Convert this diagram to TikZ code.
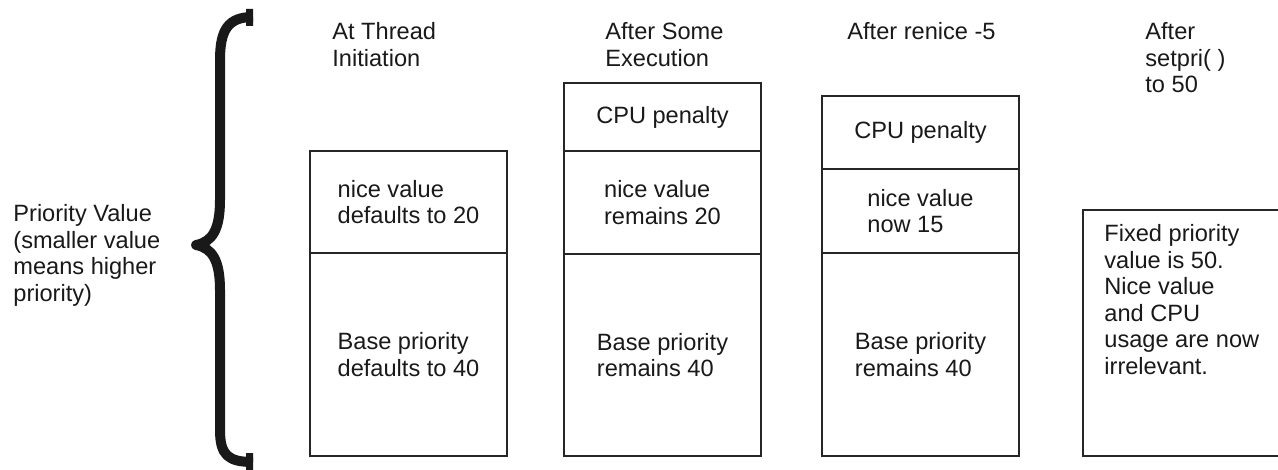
\documentclass[tikz,border=0pt]{standalone}
\usepackage{fontspec}
\setmainfont{Liberation Sans}
\usetikzlibrary{positioning}

\begin{document}
\begin{tikzpicture}[x=0.5pt, y=-0.5pt, node distance=0pt,
        font=\fontsize{11.8}{13.3}\selectfont,
        cell_style/.style={draw=black!85, line width=1pt, minimum width=98.5pt, inner sep=0pt, outer sep=0pt, align=left, text=black!90},
        head_style/.style={anchor=north west, align=left, inner sep=0pt, text=black!90},
        brace_style/.style={draw=black!90, line width=5pt, line join=round}]

        \useasboundingbox (0,0) rectangle (1278,470);
        \clip (0,0) rectangle (1278,470);

        % left label and brace
        \node [head_style] (label) at (13,204) {Priority Value\\(smaller value\\means higher\\priority)};
        \draw [brace_style] (253,17) .. controls (228,17) and (220,30) .. (220,60) -- (220,200)
            .. controls (220,230) and (212,242) .. (196,245)
            .. controls (212,248) and (220,260) .. (220,290) -- (220,430)
            .. controls (220,455) and (228,462) .. (253,462);
        \fill [black!90] (246,9) rectangle (253,26) (246,453) rectangle (253,470);

        % column 1
        \node [head_style] (head1) at (332,22) {At Thread\\Initiation};
        \node [cell_style, minimum height=51pt, anchor=north west] (nice1) at (310,151) {nice value\\defaults to 20};
        \node [cell_style, minimum height=101.5pt, below=of nice1] (base1) {Base priority\\defaults to 40};

        % column 2
        \node [head_style] (head2) at (605,22) {After Some\\Execution};
        \node [cell_style, minimum height=34pt, anchor=north west] (cpu2) at (564,83) {CPU penalty};
        \node [cell_style, minimum height=51.5pt, below=of cpu2] (nice2) {nice value\\remains 20};
        \node [cell_style, minimum height=101pt, below=of nice2] (base2) {Base priority\\remains 40};

        % column 3
        \node [head_style] (head3) at (847,22) {After renice -5};
        \node [cell_style, minimum height=36.5pt, anchor=north west] (cpu3) at (822,96) {CPU penalty};
        \node [cell_style, minimum height=42pt, below=of cpu3] (nice3) {nice value\\now 15};
        \node [cell_style, minimum height=101.5pt, below=of nice3] (base3) {Base priority\\remains 40};

        % column 4
        \node [head_style] (head4) at (1145,22) {After\\setpri( )\\to 50};
        \node [cell_style, minimum width=110pt, minimum height=123pt, anchor=north west] (fixed4) at (1083,210) {};
        \node [head_style] (fixtext) at (1104,224) {Fixed priority\\value is 50.\\Nice value\\and CPU\\usage are now\\irrelevant.};
\end{tikzpicture}
\end{document}
